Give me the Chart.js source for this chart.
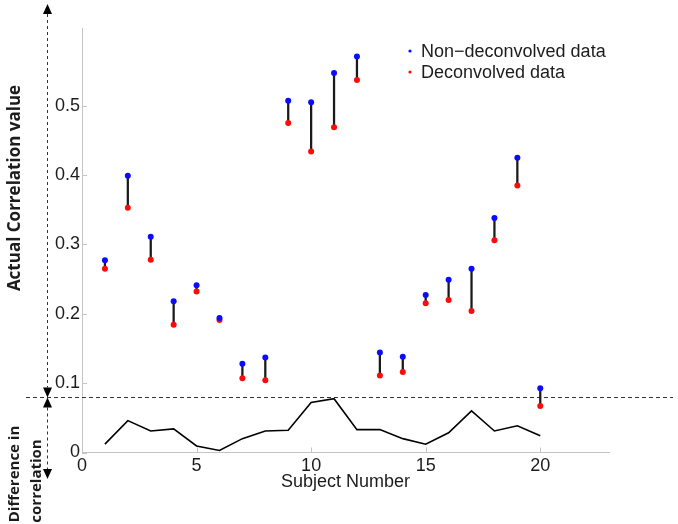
<!DOCTYPE html>
<html>
<head>
<meta charset="utf-8">
<script src="https://cdn.jsdelivr.net/npm/chart.js@4/dist/chart.umd.min.js"></script>
<style>
html,body{margin:0;padding:0;background:#fff;}
canvas{display:block;}
</style>
</head>
<body>
<canvas id="c" width="678" height="524"></canvas>
<script>
// ---- data ----
const subjects = [1,2,3,4,5,6,7,8,9,10,11,12,13,14,15,16,17,18,19,20];
const nonDeconvolved = [0.277,0.399,0.311,0.218,0.241,0.194,0.128,0.137,0.507,0.505,0.547,0.571,0.144,0.138,0.227,0.249,0.265,0.338,0.425,0.0925];
const deconvolved    = [0.265,0.353,0.278,0.184,0.232,0.191,0.107,0.104,0.475,0.434,0.469,0.537,0.111,0.116,0.215,0.220,0.204,0.306,0.385,0.067];
const difference     = [0.012,0.046,0.031,0.034,0.0094,0.003,0.020,0.031,0.032,0.072,0.0775,0.033,0.033,0.020,0.012,0.0285,0.060,0.031,0.0386,0.024];
const xTicks = [0,5,10,15,20];
const yTicks = [0,0.1,0.2,0.3,0.4,0.5];
const seriesNames = ['Non\u2212deconvolved data','Deconvolved data'];
const xTitle = 'Subject Number';
const yTitleTop = 'Actual Correlation value';
const yTitleBottom = ['Difference in','correlation'];
const dividerValue = 0.0795;

const BLUE = '#0b0bff', RED = '#ff0a0a';
const AXIS = '#c4c4c4';
const TXT = '#1c1c1c';

const decor = {
  id: 'decor',
  beforeDatasetsDraw(chart) {
    const ctx = chart.ctx, ys = chart.scales.y;
    const py = Math.round(ys.getPixelForValue(dividerValue)) + 0.5;
    ctx.save();
    ctx.strokeStyle = '#333';
    ctx.lineWidth = 1;
    ctx.setLineDash([4,3]);
    ctx.beginPath(); ctx.moveTo(26, py); ctx.lineTo(673, py); ctx.stroke();
    ctx.restore();
  },
  afterDraw(chart) {
    const ctx = chart.ctx, xs = chart.scales.x, ys = chart.scales.y, a = chart.chartArea;
    ctx.save();
    // inward ticks
    ctx.strokeStyle = AXIS; ctx.lineWidth = 1;
    ys.ticks.forEach(t => {
      const p = Math.round(ys.getPixelForValue(t.value)) + 0.5;
      ctx.beginPath(); ctx.moveTo(a.left, p); ctx.lineTo(a.left + 5, p); ctx.stroke();
    });
    xs.ticks.forEach(t => {
      const p = Math.round(xs.getPixelForValue(t.value)) + 0.5;
      ctx.beginPath(); ctx.moveTo(p, a.bottom); ctx.lineTo(p, a.bottom - 5); ctx.stroke();
    });
    // vertical dashed arrow line
    const ax = 47.5;
    const py = Math.round(ys.getPixelForValue(dividerValue)) + 0.5;
    ctx.strokeStyle = '#333'; ctx.setLineDash([3,3]);
    ctx.beginPath(); ctx.moveTo(ax, 14); ctx.lineTo(ax, py - 10); ctx.stroke();
    ctx.beginPath(); ctx.moveTo(ax, py + 10); ctx.lineTo(ax, 470); ctx.stroke();
    ctx.setLineDash([]);
    ctx.fillStyle = '#000';
    const tri = (tipY, dir) => { // dir -1 = up, +1 = down
      ctx.beginPath();
      ctx.moveTo(ax, tipY);
      ctx.lineTo(ax - 4.5, tipY - dir * 10);
      ctx.lineTo(ax + 4.5, tipY - dir * 10);
      ctx.closePath(); ctx.fill();
    };
    tri(4, -1);
    tri(py, 1);
    tri(py, -1);
    tri(479, 1);
    // legend
    ctx.font = '18px "Liberation Sans", Arial, sans-serif';
    ctx.textAlign = 'left'; ctx.textBaseline = 'middle';
    [[BLUE, 51], [RED, 72]].forEach((d, i) => {
      ctx.fillStyle = d[0];
      ctx.beginPath(); ctx.arc(410, d[1], 1.6, 0, Math.PI*2); ctx.fill();
      ctx.fillStyle = TXT;
      ctx.fillText(seriesNames[i], 421, d[1] + 1);
    });
    // x title
    ctx.textAlign = 'center';
    ctx.fillText(xTitle, (a.left + a.right) / 2, 482);
    // rotated y titles
    ctx.font = 'bold 17px "Open Sans", sans-serif';
    const rot = (txt, x, y) => {
      ctx.save(); ctx.translate(x, y); ctx.rotate(-Math.PI/2);
      ctx.textAlign = 'center'; ctx.textBaseline = 'middle';
      ctx.fillText(txt, 0, 0); ctx.restore();
    };
    rot(yTitleTop, 15, 188);
    ctx.font = 'bold 15px "Open Sans", sans-serif';
    rot(yTitleBottom[0], 15, 474);
    rot(yTitleBottom[1], 37, 481);
    ctx.restore();
  }
};

new Chart(document.getElementById('c'), {
  data: {
    datasets: [
      {
        type: 'bar',
        data: subjects.map((s, i) => ({x: s, y: [deconvolved[i], nonDeconvolved[i]]})),
        backgroundColor: '#1a1a1a',
        borderWidth: 0,
        barThickness: 1.6,
        order: 3
      },
      {
        type: 'line',
        data: subjects.map((s, i) => ({x: s, y: difference[i]})),
        borderColor: '#000',
        borderWidth: 1.6,
        pointRadius: 0,
        tension: 0,
        fill: false,
        order: 4
      },
      {
        type: 'scatter',
        data: subjects.map((s, i) => ({x: s, y: nonDeconvolved[i]})),
        backgroundColor: BLUE, borderColor: BLUE,
        pointRadius: 3, borderWidth: 0,
        order: 1
      },
      {
        type: 'scatter',
        data: subjects.map((s, i) => ({x: s, y: deconvolved[i]})),
        backgroundColor: RED, borderColor: RED,
        pointRadius: 3, borderWidth: 0,
        order: 2
      }
    ]
  },
  options: {
    responsive: false,
    animation: false,
    devicePixelRatio: 1,
    layout: { padding: { left: 0, top: 28, right: 69, bottom: 0 } },
    plugins: { legend: { display: false }, tooltip: { enabled: false } },
    scales: {
      x: {
        type: 'linear', min: 0, max: 23,
        offset: false,
        afterBuildTicks: s => { s.ticks = xTicks.map(v => ({value: v})); },
        afterFit: s => { s.height = 71.5; },
        grid: { display: false, drawTicks: false },
        border: { display: true, color: AXIS, width: 1 },
        ticks: { color: TXT, font: { family: '"Liberation Sans", Arial, sans-serif', size: 18 }, padding: 3, maxRotation: 0, autoSkip: false,
                 callback: v => String(v) }
      },
      y: {
        type: 'linear', min: 0, max: 0.612,
        afterBuildTicks: s => { s.ticks = yTicks.map(v => ({value: v})); },
        afterFit: s => { s.width = 82; },
        grid: { display: false, drawTicks: false },
        border: { display: true, color: AXIS, width: 1 },
        ticks: { color: TXT, font: { family: '"Liberation Sans", Arial, sans-serif', size: 18 }, padding: 2, autoSkip: false,
                 callback: v => (v === 0 ? '0' : String(Math.round(v * 10) / 10)) }
      }
    }
  },
  plugins: [decor]
});
</script>
</body>
</html>
